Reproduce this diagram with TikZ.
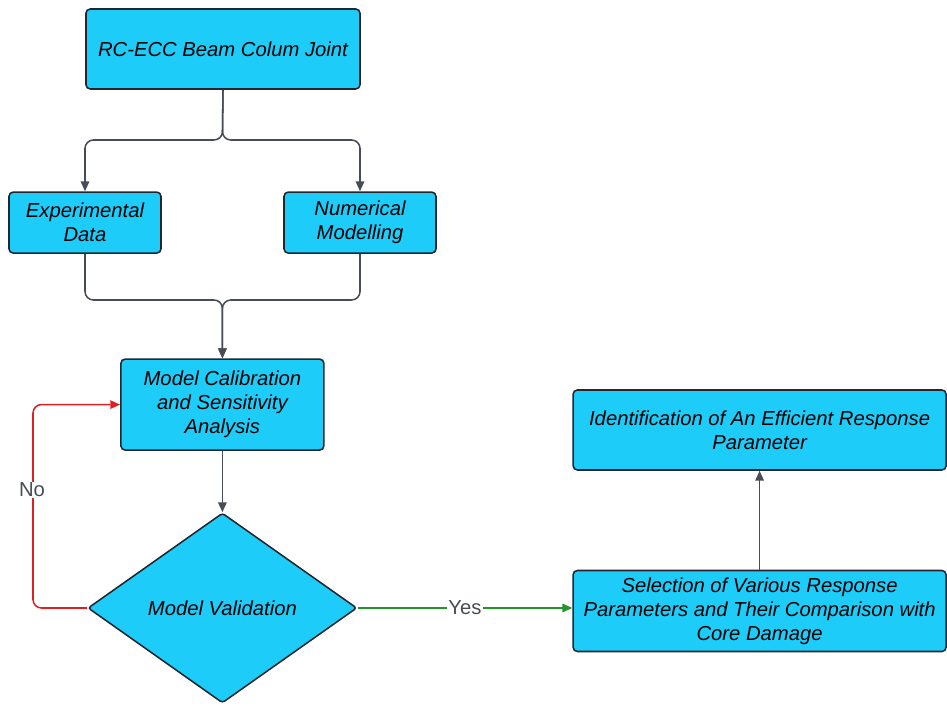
\documentclass[tikz,border=0pt]{standalone}
\usepackage{fontspec}
\setmainfont{Liberation Sans}
\usetikzlibrary{shapes.geometric, arrows.meta}

\definecolor{boxcyan}{RGB}{30,204,250}
\definecolor{boxline}{RGB}{35,38,45}
\definecolor{flowgray}{RGB}{72,76,87}
\definecolor{noRed}{RGB}{222,32,32}
\definecolor{yesGreen}{RGB}{34,150,40}

\tikzset{
  stagebox/.style={draw=boxline, fill=boxcyan, line width=1.1pt, rounded corners=3pt,
    align=center, inner sep=2pt, font=\fontsize{14.4}{17}\selectfont\itshape},
  checkbox/.style={diamond, draw=boxline, fill=boxcyan, line width=1.1pt, rounded corners=2pt,
    aspect=1.416, inner sep=0pt, font=\fontsize{14.4}{17}\selectfont\itshape},
  flow/.style={draw=flowgray, line width=1.1pt, -{Triangle[length=7pt,width=6pt]}},
  lbl/.style={fill=white, text=flowgray, inner sep=1pt, font=\fontsize{14.4}{17}\selectfont}
}

\begin{document}
\begin{tikzpicture}
        \useasboundingbox (0.0, 0.0) rectangle (23.675, 17.675);

        \node [stagebox, minimum width=6.85cm, minimum height=2.0cm] (joint) at (5.575, 16.45) {RC-ECC Beam Colum Joint};
        \node [stagebox, minimum width=3.8cm, minimum height=1.525cm] (expdata) at (2.125, 12.11) {Experimental\\Data};
        \node [stagebox, minimum width=3.8cm, minimum height=1.525cm] (nummodel) at (9.0, 12.11) {Numerical\\Modelling};
        \node [stagebox, minimum width=5.075cm, minimum height=2.275cm] (calib) at (5.56, 7.56) {Model Calibration\\and Sensitivity\\Analysis};
        \node [checkbox, minimum width=6.725cm, minimum height=4.75cm] (check) at (5.56, 2.475) {Model Validation};
        \node [stagebox, minimum width=9.325cm, minimum height=2.0cm] (ident) at (18.99, 6.925) {Identification of An Efficient Response\\Parameter};
        \node [stagebox, minimum width=9.325cm, minimum height=2.025cm] (select) at (18.99, 2.4) {Selection of Various Response\\Parameters and Their Comparison with\\Core Damage};

        \coordinate (split) at (5.56, 14.175);
        \coordinate (merge) at (5.56, 10.175);
        \coordinate (loop) at (0.825, 2.475);

        % split and merge
        \draw [flow, rounded corners=6pt] (joint.south) -- (split) -| (expdata.north);
        \draw [flow, rounded corners=6pt] (joint.south) -- (split) -| (nummodel.north);
        \draw [flow, rounded corners=6pt] (expdata.south) |- (merge) -- (calib.north);
        \draw [flow, rounded corners=6pt] (nummodel.south) |- (merge) -- (calib.north);
        \draw [flow] (calib.south) -- (check.north);

        % decision
        \draw [flow, draw=noRed, rounded corners=6pt] (check.west) -- (loop) |- (calib.west);
        \draw [flow, draw=yesGreen] (check.east) -- (check.east -| select.west);
        \draw [flow] (select.north) -- (ident.south);

        \node [lbl] (nolabel) at (0.8, 5.425) {No};
        \node [lbl] (yeslabel) at (11.625, 2.475) {Yes};
      \end{tikzpicture}
\end{document}
